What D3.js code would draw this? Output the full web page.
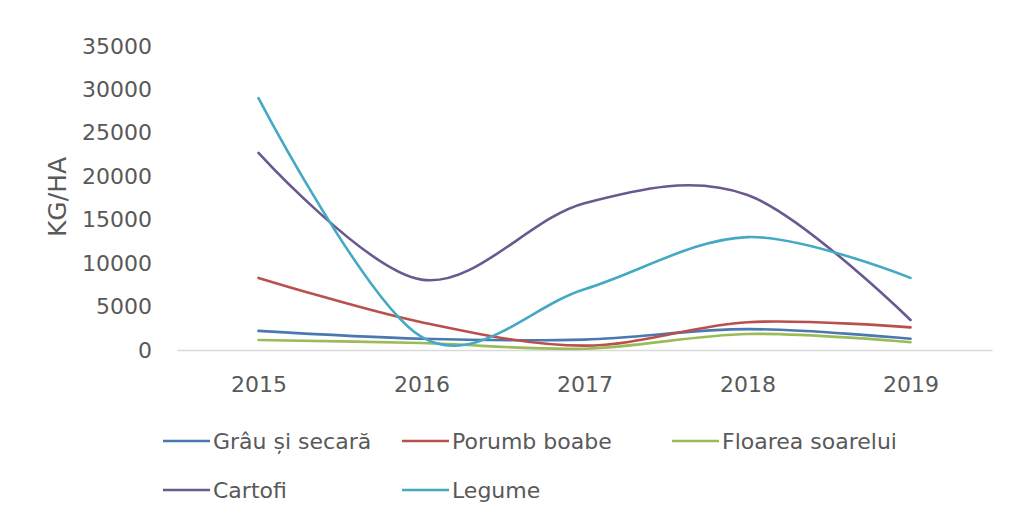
<!DOCTYPE html>
<html>
<head>
<meta charset="utf-8">
<script src="https://cdn.jsdelivr.net/npm/d3@7"></script>
<style>
  html, body { margin: 0; padding: 0; background: #fff; }
  svg text { font-family: "DejaVu Sans", sans-serif; fill: #595959; }
</style>
</head>
<body>
<svg id="chart" width="1011" height="518"></svg>
<script>
const years = ["2015", "2016", "2017", "2018", "2019"];
const seriesNames = ["Grâu și secară", "Porumb boabe", "Floarea soarelui", "Cartofi", "Legume"];
const grau = [2200, 1300, 1200, 2400, 1300];
const porumb = [8300, 3200, 500, 3200, 2600];
const floarea = [1150, 800, 150, 1850, 900];
const cartofi = [22700, 8100, 16900, 17850, 3450];
const legume = [29000, 1500, 7000, 13000, 8300];
const yTicks = [0, 5000, 10000, 15000, 20000, 25000, 30000, 35000];
const colors = ["#4a78b0", "#b9504c", "#9bbb59", "#6a5890", "#45a9c3"];
const yTitle = "KG/HA";

const seriesValues = [grau, porumb, floarea, cartofi, legume];
const svg = d3.select("#chart");

const x = d3.scalePoint().domain(years).range([177, 992]).padding(0.5);
const y = d3.scaleLinear().domain([0, 35000]).range([350, 46]);

// y axis labels
const yAxis = d3.axisLeft(y).tickValues(yTicks).tickSize(0).tickPadding(25).tickFormat(d3.format("d"));
const gy = svg.append("g").attr("transform", "translate(177,0)").call(yAxis);
gy.select(".domain").remove();
gy.selectAll("text").style("font-size", "22px").attr("fill", "#595959");

// x axis
const xAxis = d3.axisBottom(x).tickSize(0).tickPadding(26);
const gx = svg.append("g").attr("transform", "translate(0,350)").call(xAxis);
gx.select(".domain").attr("stroke", "#d9d9d9").attr("stroke-width", 1.5);
gx.selectAll("text").style("font-size", "22px").attr("fill", "#595959");

// y title
svg.append("text")
  .attr("transform", "translate(57,197) rotate(-90)")
  .attr("text-anchor", "middle")
  .attr("dominant-baseline", "central")
  .style("font-size", "25px")
  .text(yTitle);

// lines
const line = d3.line()
  .x((d, i) => x(years[i]))
  .y(d => y(d))
  .curve(d3.curveCatmullRom.alpha(0));

seriesValues.forEach((vals, i) => {
  svg.append("path")
    .datum(vals)
    .attr("fill", "none")
    .attr("stroke", colors[i])
    .attr("stroke-width", 2.6)
    .attr("stroke-linecap", "round")
    .attr("d", line);
});

// legend
const legendPos = [[163, 441], [402, 441], [672, 441], [163, 490], [402, 490]];
seriesNames.forEach((name, i) => {
  const [lx, ly] = legendPos[i];
  const g = svg.append("g").attr("transform", `translate(${lx},${ly})`);
  g.append("line").attr("x1", 0).attr("x2", 47).attr("y1", 0).attr("y2", 0)
    .attr("stroke", colors[i]).attr("stroke-width", 2.6);
  g.append("text").attr("x", 50).attr("y", 0)
    .attr("dominant-baseline", "central")
    .style("font-size", "22px")
    .text(name);
});
</script>
</body>
</html>
